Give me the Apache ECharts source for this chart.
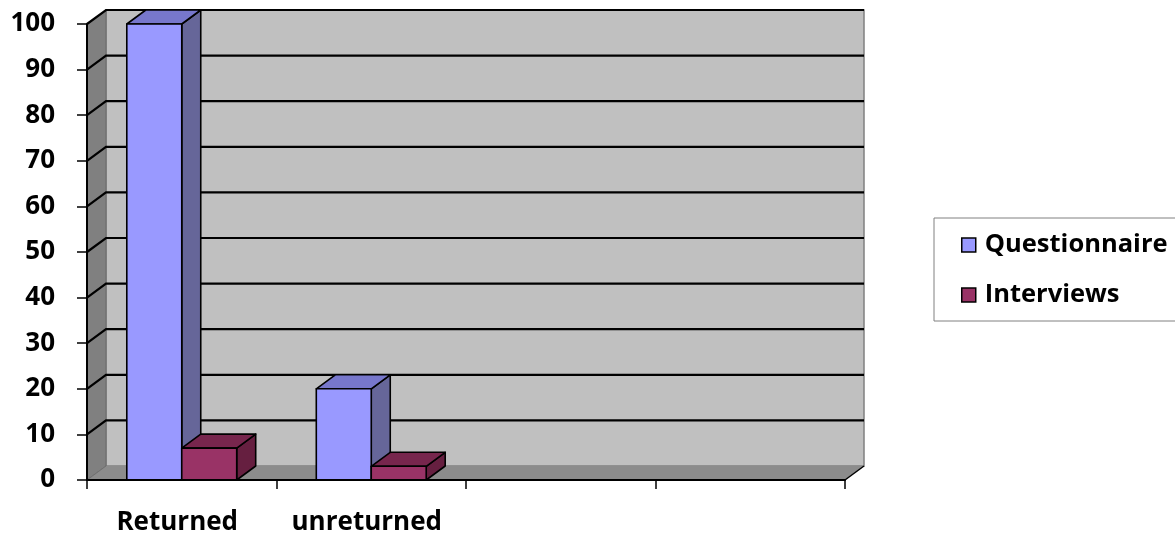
<!DOCTYPE html>
<html><head><meta charset="utf-8">
<script src="https://cdn.jsdelivr.net/npm/echarts@6/dist/echarts.min.js"></script>
<style>html,body{margin:0;padding:0;background:#fff;}#c{width:1175px;height:536px;}</style>
</head><body><div id="c"></div>
<script>
const categories = ['Returned', 'unreturned', '', ''];
const seriesNames = ['Questionnaire', 'Interviews'];
const questionnaire = [100, 20];
const interviews = [7, 3];
const yTicks = [10, 20, 30, 40, 50, 60, 70, 80, 90, 100];

const DX = 19, DY = -14;
const FONT = '"Open Sans", "Liberation Sans", sans-serif';

function wallRender(params, api) {
  const cs = params.coordSys;
  const x = cs.x, y = cs.y, w = cs.width, h = cs.height;
  return { type: 'group', children: [
    { type: 'polygon', shape: { points: [[x + DX, y + DY], [x + w + DX, y + DY], [x + w + DX, y + h + DY], [x + DX, y + h + DY]] },
      style: { fill: '#C0C0C0', stroke: '#808080', lineWidth: 1.5 } },
    { type: 'polygon', shape: { points: [[x, y], [x + DX, y + DY], [x + DX, y + h + DY], [x, y + h]] },
      style: { fill: '#808080', stroke: '#6a6a6a', lineWidth: 1 } },
    { type: 'polygon', shape: { points: [[x, y + h], [x + DX, y + h + DY], [x + w + DX, y + h + DY], [x + w, y + h]] },
      style: { fill: '#8C8C8C', stroke: null } },
    { type: 'line', shape: { x1: x, y1: y + h, x2: x + DX, y2: y + h + DY },
      style: { stroke: '#707070', lineWidth: 1 } },
    { type: 'line', shape: { x1: x + w, y1: y + h, x2: x + w + DX, y2: y + h + DY },
      style: { stroke: '#000', lineWidth: 1.5 } }
  ]};
}

function gridRender(params, api) {
  const cs = params.coordSys;
  const p = api.coord([0, api.value(1)]);
  const yy = p[1];
  return { type: 'polyline', shape: { points: [[cs.x, yy], [cs.x + DX, yy + DY], [cs.x + cs.width + DX, yy + DY]] },
    style: { stroke: '#000', lineWidth: 2.2, fill: null } };
}

function barRender(side, front, top, right) {
  return function (params, api) {
    const cat = api.value(0), val = api.value(1);
    const base = api.coord([cat, 0]);
    const t = api.coord([cat, val]);
    const band = api.size([1, 0])[0];
    const bw = band * 0.29;
    const x0 = base[0] + (side === 0 ? -bw : 0);
    const ty = t[1], by = base[1];
    const st = { stroke: '#000', lineWidth: 1.6, lineJoin: 'round' };
    return { type: 'group', children: [
      { type: 'polygon', shape: { points: [[x0 + bw, ty], [x0 + bw + DX, ty + DY], [x0 + bw + DX, by + DY], [x0 + bw, by]] },
        style: Object.assign({ fill: right }, st) },
      { type: 'polygon', shape: { points: [[x0, ty], [x0 + DX, ty + DY], [x0 + bw + DX, ty + DY], [x0 + bw, ty]] },
        style: Object.assign({ fill: top }, st) },
      { type: 'rect', shape: { x: x0, y: ty, width: bw, height: by - ty },
        style: Object.assign({ fill: front }, st) }
    ]};
  };
}

const chart = echarts.init(document.getElementById('c'), null, { renderer: 'canvas' });
chart.setOption({
  animation: false,
  backgroundColor: '#fff',
  grid: { left: 87, right: 330, top: 24, bottom: 56, containLabel: false },
  legend: {
    orient: 'vertical', left: 934, top: 218,
    padding: [12, 20, 11, 27],
    itemWidth: 14, itemHeight: 14, itemGap: 20,
    borderColor: '#808080', borderWidth: 1, borderRadius: 0,
    textStyle: { fontFamily: FONT, fontWeight: 'bold', fontSize: 25.5, color: '#000', lineHeight: 30, padding: [0, 0, 0, 4] },
    data: [
      { name: seriesNames[0], icon: 'rect', itemStyle: { color: '#9999FF', borderColor: '#000', borderWidth: 1.5 } },
      { name: seriesNames[1], icon: 'rect', itemStyle: { color: '#993366', borderColor: '#000', borderWidth: 1.5 } }
    ]
  },
  xAxis: {
    type: 'category', data: categories, z: 10,
    axisLine: { lineStyle: { color: '#000', width: 2 } },
    axisTick: { show: true, interval: 0, length: 9, lineStyle: { color: '#000', width: 1.5 } },
    axisLabel: { interval: 0, margin: 30, padding: [0, 9, 0, 0], fontFamily: FONT, fontWeight: 'bold', fontSize: 26, color: '#000' },
    splitLine: { show: false }
  },
  yAxis: {
    type: 'value', min: 0, max: 100, interval: 10, z: 10,
    axisLine: { show: true, lineStyle: { color: '#000', width: 2 } },
    axisTick: { show: true, length: 10, lineStyle: { color: '#000', width: 1.5 } },
    axisLabel: { margin: 32, fontFamily: FONT, fontWeight: 'bold', fontSize: 26, color: '#000' },
    splitLine: { show: false }
  },
  series: [
    { type: 'custom', name: '_walls', z: 1, silent: true, renderItem: wallRender, data: [[0, 0]] },
    { type: 'custom', name: '_grid', z: 2, silent: true, renderItem: gridRender, data: yTicks.map(v => [0, v]) },
    { type: 'custom', name: seriesNames[0], z: 3, itemStyle: { color: '#9999FF' },
      renderItem: barRender(0, '#9999FF', '#7777CC', '#666699'),
      data: questionnaire.map((v, i) => [i, v]) },
    { type: 'custom', name: seriesNames[1], z: 4, itemStyle: { color: '#993366' },
      renderItem: barRender(1, '#993366', '#77264D', '#661F40'),
      data: interviews.map((v, i) => [i, v]) }
  ]
});
</script>
</body></html>
